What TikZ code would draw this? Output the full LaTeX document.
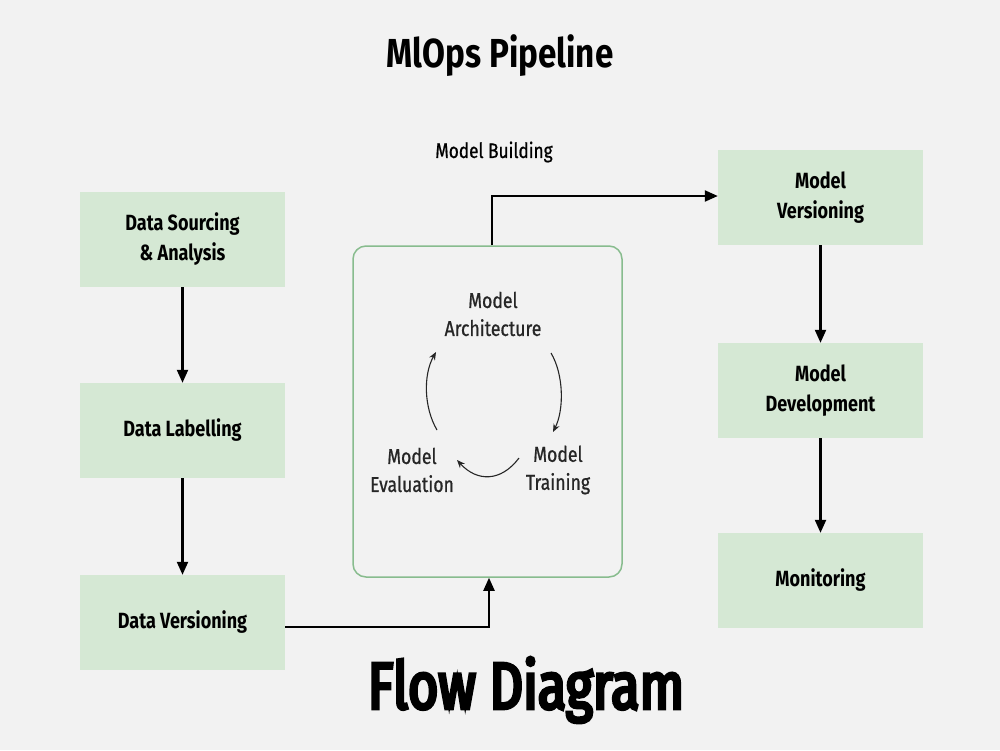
\documentclass[tikz,border=0pt]{standalone}
\usepackage{fontspec}
\setmainfont{Fira Sans}[FakeStretch=0.82]
\newfontfamily\heavyfont{Fira Sans}[FakeStretch=0.79,FakeBold=5]
\newfontfamily\medfont{Fira Sans}[FakeStretch=0.82,FakeBold=0.8]
\usetikzlibrary{arrows.meta,calc}
\definecolor{bgc}{HTML}{F2F2F2}
\definecolor{boxc}{HTML}{D5E8D4}
\definecolor{edgec}{HTML}{88BC8E}
\tikzset{
  stagebox/.style={fill=boxc, draw=none, minimum width=205pt, minimum height=95pt, align=center, font=\fontsize{22}{30}\selectfont\bfseries, text=black},
  innertext/.style={align=center, font=\fontsize{21.5}{28}\selectfont\medfont, text=black!85},
  flow/.style={-{Triangle[length=13pt,width=11pt]}, line width=2.2pt, black},
  cyc/.style={-{Stealth[length=8pt,width=6.5pt]}, line width=1.1pt, black!85},
}
\begin{document}
\begin{tikzpicture}[x=1pt,y=-1pt]
\useasboundingbox[fill=bgc] (0,0) rectangle (1000,750);
\node[font=\fontsize{40.5}{48}\selectfont\bfseries] (title) at (500,56) {MlOps Pipeline};
\node[font=\fontsize{21}{24}\selectfont\medfont] (mb) at (494,152) {Model Building};
\node[font=\fontsize{66}{70}\selectfont\heavyfont] (flowd) at (526,690) {Flow Diagram};

\node[stagebox] (ds) at (182.5,239.5) {Data Sourcing\\\& Analysis};
\node[stagebox] (dl) at (182.5,430.5) {Data Labelling};
\node[stagebox] (dv) at (182.5,622.5) {Data Versioning};

\node[stagebox] (mv) at (820.5,197.5) {Model\\Versioning};
\node[stagebox] (md) at (820.5,390.5) {Model\\Development};
\node[stagebox] (mon) at (820.5,580.5) {Monitoring};

\node[draw=edgec, line width=1.5pt, rounded corners=13pt, minimum width=269pt, minimum height=331pt] (build) at (487.5,411.5) {};

\node[innertext] (arch) at (493,314) {Model\\Architecture};
\node[innertext] (train) at (558,470) {Model\\Training};
\node[innertext] (eval) at (412,470) {Model\\Evaluation};

\draw[flow] (ds) -- (dl);
\draw[flow] (dl) -- (dv);
\draw[flow] (mv) -- (md);
\draw[flow] (md) -- (mon);
\draw[flow] (dv.east |- 0,627) -| (build.south -| 489,0);
\draw[flow] (build.north -| 492,0) |- (mv.west |- 0,196);

\draw[cyc] ($(eval)+(25,-40)$) .. controls +(-13,-22) and +(-13,23) .. ($(arch)+(-57,38)$);
\draw[cyc] ($(arch)+(58,39)$) .. controls +(13,22) and +(11,-22) .. ($(train)+(-5,-38)$);
\draw[cyc] ($(train)+(-39,-12)$) .. controls +(-18,24) and +(20,22) .. ($(eval)+(45,-10)$);
\end{tikzpicture}
\end{document}
